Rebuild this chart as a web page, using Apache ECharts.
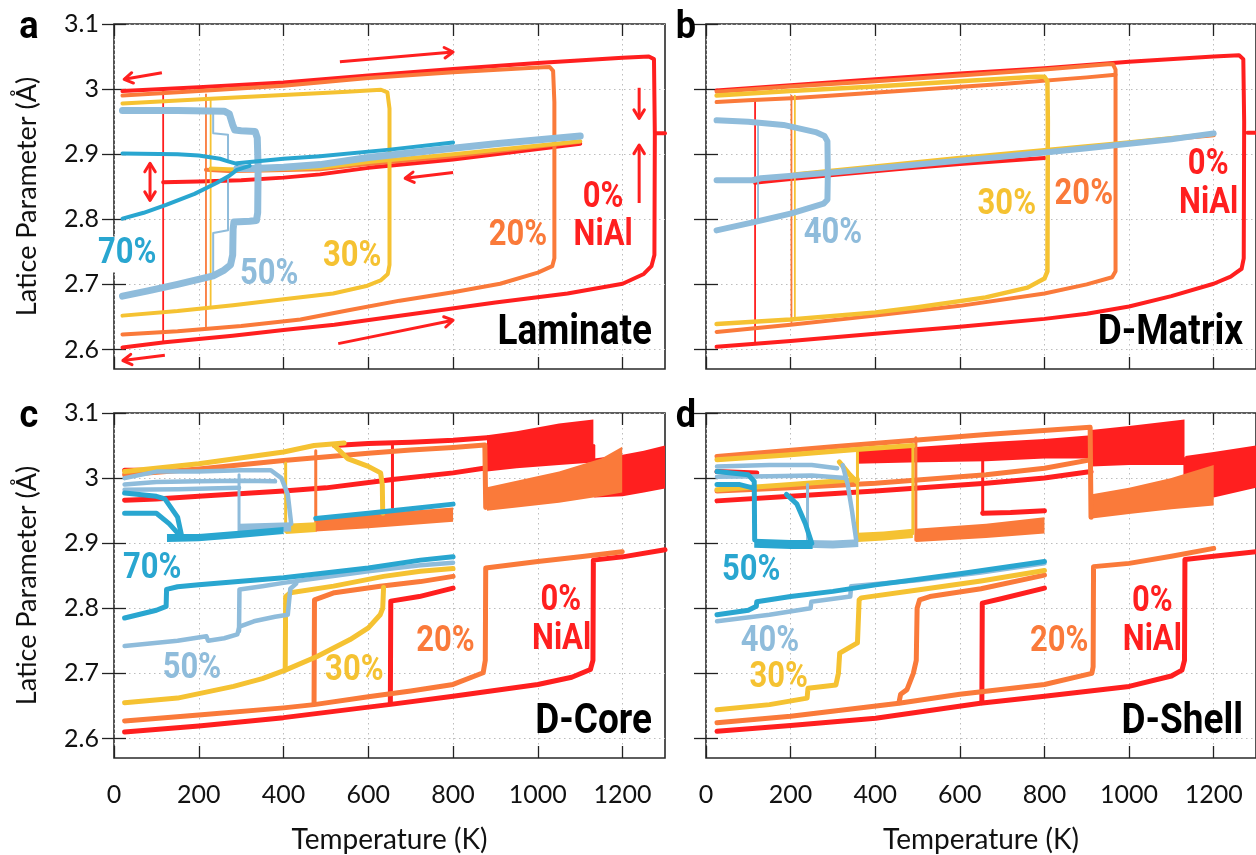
<!DOCTYPE html>
<html>
<head>
<meta charset="utf-8">
<script src="https://cdn.jsdelivr.net/npm/echarts@6.0.0/dist/echarts.min.js"></script>
<style>
  html, body { margin: 0; padding: 0; background: #fff; }
  #chart { width: 1256px; height: 855px; }
</style>
</head>
<body>
<div id="chart"></div>
<script>
// ---- axis ticks ----
const tempTicks = [0, 200, 400, 600, 800, 1000, 1200];
const latticeTicks = [2.6, 2.7, 2.8, 2.9, 3.0, 3.1];

// ---- (a) Laminate : segments of [T (K), lattice parameter (Å)] ----
const laminate0 = [
  [[20,2.997],[200,3.003],[400,3.010],[600,3.021],[800,3.031],[1000,3.040],[1200,3.048],[1262,3.050],[1274,3.046],[1276,2.930],[1275,2.745],[1268,2.728],[1250,2.716],[1200,2.701],[1070,2.686],[900,2.672],[700,2.654],[520,2.638],[400,2.630],[280,2.621],[120,2.611],[20,2.603]],
  [[1100,2.916],[800,2.892],[600,2.879],[486,2.869],[400,2.864],[300,2.860],[200,2.858],[116,2.857]],
  [[116,2.998],[116,2.611]],
  [[1280,2.932],[1300,2.932]]
];
const laminate20 = [
  [[20,2.990],[200,2.997],[400,3.005],[600,3.017],[800,3.026],[1000,3.033],[1028,3.034],[1036,3.028],[1039,2.980],[1039,2.740],[1034,2.728],[1000,2.718],[911,2.701],[800,2.688],[674,2.675],[550,2.660],[440,2.646],[300,2.636],[150,2.628],[20,2.623]],
  [[1100,2.919],[800,2.897],[600,2.885],[486,2.877],[350,2.875],[270,2.874],[217,2.876]],
  [[217,2.992],[217,2.634]]
];
const laminate30 = [
  [[20,2.978],[228,2.985],[400,2.991],[550,2.996],[630,2.999],[645,2.995],[650,2.970],[650,2.730],[646,2.716],[629,2.706],[598,2.698],[517,2.686],[400,2.677],[281,2.668],[150,2.659],[20,2.652]],
  [[1100,2.920],[800,2.900],[600,2.888],[486,2.879],[350,2.876],[270,2.877],[228,2.878]],
  [[228,2.985],[228,2.664]]
];
const laminate50 = [
  [[20,2.967],[150,2.967],[260,2.966],[272,2.962],[280,2.945],[285,2.937],[300,2.936],[333,2.935],[338,2.925],[340,2.880],[339,2.810],[336,2.798],[320,2.797],[283,2.796],[281,2.785],[280,2.745],[275,2.730],[260,2.722],[234,2.713],[150,2.700],[80,2.690],[20,2.682]],
  [[1100,2.928],[900,2.916],[800,2.909],[600,2.895],[486,2.884],[400,2.880],[330,2.878],[290,2.878]]
];
const laminate50Thin = [
  [[234,2.965],[234,2.932],[269,2.930],[269,2.891]],
  [[269,2.865],[269,2.783],[234,2.779],[234,2.711]]
];
const laminate70 = [
  [[20,2.901],[150,2.900],[200,2.898],[250,2.893],[269,2.889],[290,2.885]],
  [[20,2.801],[70,2.810],[123,2.822],[190,2.839],[243,2.856],[270,2.866],[290,2.876],[320,2.882]],
  [[290,2.886],[400,2.893],[486,2.897],[650,2.907],[800,2.918]]
];

// ---- (b) D-Matrix ----
const matrix0 = [
  [[25,2.998],[200,3.006],[400,3.015],[600,3.024],[800,3.032],[1000,3.042],[1200,3.050],[1260,3.052],[1270,3.046],[1272,2.950],[1271,2.740],[1266,2.724],[1240,2.712],[1200,2.701],[1100,2.682],[1000,2.666],[900,2.655],[800,2.647],[600,2.635],[400,2.624],[200,2.613],[25,2.604]],
  [[800,2.894],[600,2.885],[470,2.878],[300,2.868],[200,2.862],[125,2.857],[116,2.856]],
  [[116,2.985],[116,2.611]],
  [[1280,2.933],[1300,2.933]]
];
const matrix20 = [
  [[25,2.996],[200,3.004],[400,3.012],[600,3.021],[800,3.030],[950,3.038],[962,3.038],[968,3.030],[968,2.720],[960,2.711],[900,2.700],[800,2.686],[600,2.667],[400,2.652],[200,2.638],[25,2.627]],
  [[968,3.022],[900,3.018],[700,3.008],[500,2.999],[300,2.990],[202,2.986],[100,2.983],[25,2.980]],
  [[1200,2.929],[1000,2.917],[800,2.905],[600,2.892],[400,2.879],[202,2.868]],
  [[202,2.990],[202,2.642]]
];
const matrix30 = [
  [[25,2.990],[200,2.997],[400,3.004],[600,3.012],[780,3.019],[800,3.019],[807,3.012],[808,2.950],[807,2.720],[800,2.709],[760,2.695],[661,2.680],[500,2.665],[401,2.657],[200,2.646],[25,2.639]],
  [[1200,2.931],[1000,2.918],[800,2.906],[600,2.894],[400,2.881],[210,2.869]],
  [[210,2.990],[210,2.650]]
];
const matrix40 = [
  [[25,2.952],[100,2.950],[183,2.945],[259,2.934],[280,2.928],[287,2.920],[288,2.870],[287,2.830],[278,2.824],[202,2.809],[116,2.796],[25,2.783]],
  [[25,2.860],[110,2.860],[130,2.863],[300,2.872],[500,2.884],[700,2.896],[900,2.909],[1100,2.923],[1200,2.932]],
  [[123,2.948],[123,2.798]]
];

// ---- (c) D-Core ----
const core0 = [
  [[25,2.610],[200,2.619],[400,2.632],[648,2.652],[800,2.665],[1000,2.683],[1080,2.694],[1124,2.706],[1130,2.720],[1131,2.874],[1200,2.879],[1300,2.890]],
  [[652,2.655],[653,2.811],[720,2.818],[800,2.831]],
  [[25,2.966],[100,2.968],[200,2.972],[400,2.980],[500,2.985],[657,2.998],[800,3.008],[880,3.016]],
  [[520,3.050],[600,3.053],[700,3.055],[800,3.058],[880,3.062]],
  [[1132,3.050],[1132,2.975]],
  [[657,3.050],[657,2.955]],
  [[25,3.012],[100,3.012]]
];
const core0Bands = [
  [[880,3.010,3.066],[950,3.015,3.072],[1050,3.020,3.084],[1131,3.024,3.090]],
  [[1133,2.970,3.030],[1200,2.972,3.036],[1250,2.978,3.042],[1300,2.984,3.050]]
];
const core20 = [
  [[25,2.627],[200,2.636],[400,2.647],[472,2.652],[600,2.664],[700,2.673],[800,2.683],[871,2.701],[876,2.720],[877,2.862],[1000,2.872],[1100,2.879],[1199,2.887]],
  [[472,2.655],[473,2.813],[520,2.824],[628,2.834],[723,2.841],[800,2.849]],
  [[25,3.005],[200,3.014],[400,3.027],[600,3.038],[700,3.043],[800,3.047],[875,3.051],[877,2.955]],
  [[476,3.042],[476,2.920]]
];
const core20Bands = [
  [[880,2.950,2.986],[950,2.955,2.996],[1050,2.962,3.010],[1150,2.972,3.030],[1199,2.978,3.048]],
  [[476,2.918,2.936],[600,2.923,2.944],[700,2.928,2.950],[800,2.933,2.955]]
];
const core30 = [
  [[25,2.655],[150,2.662],[282,2.680],[350,2.692],[404,2.705],[479,2.726],[557,2.752],[600,2.770],[628,2.790],[634,2.800],[636,2.832]],
  [[404,2.705],[405,2.818],[416,2.824],[518,2.834],[636,2.849],[723,2.857],[800,2.861]],
  [[25,3.010],[200,3.022],[400,3.040],[472,3.050],[543,3.054]],
  [[520,3.050],[551,3.030],[600,3.018],[629,3.008],[633,2.990],[634,2.946]],
  [[405,3.023],[405,2.918]]
];
const core30Bands = [
  [[405,2.914,2.930],[476,2.917,2.932]]
];
const core50 = [
  [[25,3.000],[100,3.010],[200,3.010],[300,3.012],[370,3.012],[395,3.000],[410,2.975],[418,2.930]],
  [[25,2.990],[100,2.994],[200,2.995],[300,2.996],[380,2.995]],
  [[25,2.982],[150,2.983],[295,2.985]],
  [[295,3.005],[295,2.920]],
  [[25,2.742],[150,2.750],[218,2.757],[222,2.750],[260,2.754],[291,2.760],[296,2.772],[330,2.780],[380,2.787],[410,2.790],[416,2.830],[430,2.838]],
  [[295,2.765],[296,2.829],[350,2.834],[400,2.839],[500,2.848],[600,2.857],[723,2.866],[800,2.870]]
];
const core50Bands = [
  [[295,2.916,2.930],[418,2.918,2.932]]
];
const core70 = [
  [[25,2.977],[100,2.972],[120,2.968],[150,2.940],[160,2.910]],
  [[25,2.946],[100,2.946],[130,2.930],[155,2.912]],
  [[476,2.938],[600,2.946],[700,2.953],[800,2.960]],
  [[25,2.785],[100,2.797],[123,2.803],[124,2.829],[150,2.833],[200,2.836],[400,2.847],[600,2.862],[723,2.874],[800,2.879]]
];
const core70Bands = [
  [[125,2.902,2.914],[200,2.903,2.914],[295,2.908,2.919],[400,2.914,2.925]]
];

// ---- (d) D-Shell ----
const shell0 = [
  [[26,2.611],[200,2.620],[401,2.631],[648,2.654],[800,2.665],[1000,2.680],[1100,2.696],[1125,2.705],[1131,2.720],[1132,2.875],[1200,2.880],[1300,2.887]],
  [[652,2.655],[653,2.808],[700,2.815],[800,2.831]],
  [[26,2.965],[200,2.972],[400,2.980],[662,2.992],[800,3.000],[910,3.010]],
  [[1132,3.030],[1132,2.985]],
  [[654,3.050],[654,2.945]],
  [[654,2.946],[720,2.947],[800,2.950]],
  [[26,3.010],[120,3.008]]
];
const shell0Bands = [
  [[355,3.022,3.043],[480,3.024,3.047],[662,3.026,3.055],[800,3.030,3.060],[910,3.030,3.066]],
  [[910,3.018,3.074],[1000,3.020,3.080],[1131,3.020,3.090]],
  [[1133,2.972,3.034],[1200,2.970,3.040],[1300,2.985,3.050]]
];
const shell20 = [
  [[26,2.624],[200,2.634],[456,2.654],[600,2.668],[800,2.683],[912,2.700],[915,2.710],[916,2.864],[1000,2.869],[1100,2.880],[1200,2.892]],
  [[456,2.655],[460,2.668],[475,2.675],[490,2.700],[497,2.720],[499,2.800],[505,2.813],[529,2.818],[650,2.830],[800,2.851]],
  [[26,3.033],[300,3.048],[662,3.067],[908,3.078],[910,2.940]],
  [[26,2.980],[200,2.985],[400,2.992],[662,3.005],[800,3.015],[908,3.028]],
  [[496,3.062],[496,2.905]]
];
const shell20Bands = [
  [[912,2.938,2.975],[1000,2.945,2.985],[1100,2.952,3.000],[1200,2.958,3.020]],
  [[496,2.902,2.922],[662,2.908,2.930],[800,2.915,2.940]]
];
const shell30 = [
  [[26,2.644],[150,2.652],[239,2.662],[241,2.677],[307,2.682],[313,2.700],[316,2.731],[358,2.747],[360,2.780],[362,2.813],[367,2.816],[500,2.828],[650,2.842],[800,2.858]],
  [[26,3.028],[200,3.036],[355,3.044],[489,3.050]],
  [[26,2.982],[200,2.990],[358,2.998]],
  [[358,3.040],[358,2.907]],
  [[489,3.050],[489,2.915]],
  [[315,3.025],[340,3.005],[355,2.995]]
];
const shell30Bands = [
  [[358,2.902,2.916],[420,2.904,2.918],[489,2.908,2.922]]
];
const shell40 = [
  [[26,2.780],[150,2.790],[247,2.800],[249,2.810],[341,2.818],[343,2.834],[500,2.843],[650,2.855],[800,2.869]],
  [[26,3.018],[150,3.020],[250,3.020],[310,3.015]],
  [[26,3.002],[150,3.003],[250,3.004],[330,3.000]],
  [[323,3.020],[335,2.990],[345,2.950],[355,2.905]],
  [[240,2.990],[240,2.900]]
];
const shell40Bands = [
  [[240,2.893,2.905],[300,2.892,2.904],[360,2.894,2.906]]
];
const shell50 = [
  [[26,2.790],[100,2.797],[119,2.803],[120,2.810],[200,2.818],[300,2.826],[401,2.836],[600,2.853],[800,2.872]],
  [[26,3.010],[100,3.005],[114,2.995],[115,2.905]],
  [[26,2.990],[80,2.990],[110,2.985]],
  [[190,2.975],[215,2.960],[235,2.930],[250,2.900]]
];
const shell50Bands = [
  [[114,2.893,2.907],[200,2.891,2.905],[252,2.891,2.905]]
];

// ---- composition tags: [panel, text, T, lattice, colour key] ----
const tags = [
  [0,'70%',31,2.746,'b'],[0,'50%',366,2.714,'lb'],[0,'30%',562,2.742,'y'],[0,'20%',953,2.775,'o'],[0,'0%',1154,2.833,'r'],[0,'NiAl',1154,2.775,'r'],
  [1,'40%',300,2.778,'lb'],[1,'30%',711,2.822,'y'],[1,'20%',893,2.837,'o'],[1,'0%',1187,2.883,'r'],[1,'NiAl',1188,2.823,'r'],
  [2,'70%',90,2.861,'b'],[2,'50%',184,2.707,'lb'],[2,'30%',567,2.703,'y'],[2,'20%',782,2.748,'o'],[2,'0%',1054,2.811,'r'],[2,'NiAl',1056,2.752,'r'],
  [3,'50%',107,2.858,'b'],[3,'40%',151,2.748,'lb'],[3,'30%',172,2.693,'y'],[3,'20%',835,2.748,'o'],[3,'0%',1055,2.809,'r'],[3,'NiAl',1055,2.749,'r']
];
// heating / cooling direction arrows in (a): [T1, v1, T2, v2, double-headed]
const laminateArrows = [
  [113,3.025,24,3.015,0],[120,2.591,21,2.583,0],[533,3.042,800,3.057,0],[529,2.609,800,2.645,0],
  [800,2.872,687,2.863,0],[1239,3.002,1239,2.955,0],[1239,2.825,1239,2.914,0],[85,2.886,85,2.829,1]
];

const C = { r:'#ff1f1f', o:'#fa7a3a', y:'#f5c232', lb:'#8fbcdb', b:'#29a6d0' };
const FONT = 'Lato';

const layout = [
  { left:114, top:24,  width:551, height:345, xLabels:false, yLabels:true,  title:'Laminate', letter:'a' },
  { left:706, top:24,  width:550, height:345, xLabels:false, yLabels:false, title:'D-Matrix', letter:'b' },
  { left:114, top:413, width:551, height:345, xLabels:true,  yLabels:true,  title:'D-Core',   letter:'c' },
  { left:706, top:413, width:550, height:345, xLabels:true,  yLabels:false, title:'D-Shell',  letter:'d' }
];

// traces per panel: [segments, colour key, line width, noise bands]
const panelTraces = [
  [[laminate0,'r',4],[laminate20,'o',4],[laminate30,'y',4],[laminate50,'lb',7],[laminate50Thin,'lb',2],[laminate70,'b',4]],
  [[matrix0,'r',4],[matrix20,'o',4],[matrix30,'y',4.5],[matrix40,'lb',6]],
  [[core0,'r',5,core0Bands],[core20,'o',5,core20Bands],[core30,'y',5,core30Bands],[core50,'lb',4.5,core50Bands],[core70,'b',5,core70Bands]],
  [[shell0,'r',5,shell0Bands],[shell20,'o',5,shell20Bands],[shell30,'y',5,shell30Bands],[shell40,'lb',4.5,shell40Bands],[shell50,'b',5,shell50Bands]]
];

const tickStyle = { color:'#222', width:1.3 };
const gridLine = { show:true, lineStyle:{ type:[1.5,3.5], color:'#bdbdbd', width:1 } };
const grids = [], xAxes = [], yAxes = [], series = [];

layout.forEach((L, g) => {
  grids.push({ left:L.left, top:L.top, width:L.width, height:L.height, show:true,
    borderColor:'#2a2a2a', borderWidth:1.6, backgroundColor:'transparent',
    containLabel:false, outerBoundsMode:'none' });
  xAxes.push({ type:'value', gridIndex:g, min:0, max:1300, interval:200, position:'bottom',
    axisLine:{show:false},
    axisTick:{show:true, inside:true, length:12, customValues:tempTicks, lineStyle:tickStyle},
    axisLabel:{show:L.xLabels, customValues:tempTicks, margin:24, fontSize:25, fontFamily:FONT, color:'#111',
      formatter:(v) => String(v)},
    splitLine:gridLine,
    name:L.xLabels ? 'Temperature (K)' : '', nameLocation:'middle', nameGap:68,
    nameTextStyle:{fontSize:28, fontFamily:FONT, color:'#111'} });
  xAxes.push({ type:'value', gridIndex:g, min:0, max:1300, interval:200, position:'top',
    axisLine:{show:false},
    axisTick:{show:true, inside:true, length:12, customValues:tempTicks, lineStyle:tickStyle},
    axisLabel:{show:false}, splitLine:{show:false} });
  yAxes.push({ type:'value', gridIndex:g, min:2.57, max:3.1, position:'left',
    axisLine:{show:false},
    axisTick:{show:true, inside:true, length:12, customValues:latticeTicks, lineStyle:tickStyle},
    axisLabel:{show:L.yLabels, customValues:latticeTicks, margin:15, fontSize:25, fontFamily:FONT, color:'#111',
      formatter:(v) => Math.abs(v - 3) < 1e-9 ? '3' : v.toFixed(1)},
    splitLine:gridLine,
    name:L.yLabels ? 'Latice Parameter (Å)' : '', nameLocation:'middle', nameGap:73,
    nameTextStyle:{fontSize:27, fontFamily:FONT, color:'#111'} });
  yAxes.push({ type:'value', gridIndex:g, min:2.57, max:3.1, position:'right',
    axisLine:{show:false},
    axisTick:{show:true, inside:true, length:12, customValues:latticeTicks, lineStyle:tickStyle},
    axisLabel:{show:false}, splitLine:{show:false} });

  const stepWidth = g < 2 ? 1.8 : 3;
  panelTraces[g].forEach(([segs, key, width, bands], k) => {
    const color = C[key];
    const z = 3 + k;
    (bands || []).forEach((band) => {
      series.push({ type:'custom', xAxisIndex:2*g, yAxisIndex:2*g, silent:true, animation:false, z, clip:true,
        data:[[band[0][0], band[0][1]]],
        renderItem:(params, api) => {
          const upper = band.map((p) => api.coord([p[0], p[2]]));
          const lower = band.slice().reverse().map((p) => api.coord([p[0], p[1]]));
          return { type:'polygon', shape:{ points: upper.concat(lower) }, style:{ fill: color } };
        } });
    });
    segs.forEach((seg) => {
      const isStep = seg.length === 2 && seg[0][0] === seg[1][0];
      series.push({ type:'line', xAxisIndex:2*g, yAxisIndex:2*g, data:seg, symbol:'none', showSymbol:false,
        silent:true, animation:false, z, clip:true,
        lineStyle:{ color, width: isStep ? stepWidth : width, cap:'round', join:'round' } });
    });
  });
});

const chart = echarts.init(document.getElementById('chart'), null, { renderer:'canvas' });
chart.setOption({ animation:false, backgroundColor:'#fff', grid:grids, xAxis:xAxes, yAxis:yAxes, series });

// ---- text and arrows placed through the axes' own scales ----
const toPx = (g, T, v) => chart.convertToPixel({ xAxisIndex:2*g, yAxisIndex:2*g }, [T, v]);
const gfx = [];
const textEl = (x, y, text, font, fill, align, sx, bg) => ({
  type:'text', x, y, scaleX:sx, z:100,
  style:{ text, font, fill, align, textAlign:align, verticalAlign:'middle', textVerticalAlign:'middle',
    backgroundColor: bg || 'transparent', padding: bg ? [0, 2] : 0 }
});
tags.forEach(([g, text, T, v, key]) => {
  const [x, y] = toPx(g, T, v);
  gfx.push(textEl(x, y, text, 'bold 36px Roboto', C[key], 'center', 0.86, g === 0 && text === '70%' ? '#fff' : null));
});
layout.forEach((L) => {
  gfx.push(textEl(L.left + L.width - 13, L.top + L.height - 36, L.title, 'bold 42px Roboto', '#000', 'right', 0.88));
  gfx.push(textEl(L.left - (L.left > 300 ? 20 : 85), L.top + 4, L.letter, 'bold 38px Roboto', '#000', 'center', 0.95));
});
laminateArrows.forEach(([T1, v1, T2, v2, both]) => {
  const a = toPx(0, T1, v1), b = toPx(0, T2, v2);
  const head = (tip, from) => {
    const dx = tip[0] - from[0], dy = tip[1] - from[1], len = Math.hypot(dx, dy);
    const ux = dx / len, uy = dy / len, s = 10, ang = 0.55;
    const p1 = [tip[0] - s * (ux * Math.cos(ang) - uy * Math.sin(ang)), tip[1] - s * (uy * Math.cos(ang) + ux * Math.sin(ang))];
    const p2 = [tip[0] - s * (ux * Math.cos(ang) + uy * Math.sin(ang)), tip[1] - s * (uy * Math.cos(ang) - ux * Math.sin(ang))];
    return { type:'polyline', z:100, shape:{ points:[p1, tip, p2] }, style:{ stroke:C.r, lineWidth:3, fill:null, lineCap:'round', lineJoin:'round' } };
  };
  gfx.push({ type:'polyline', z:100, shape:{ points:[a, b] }, style:{ stroke:C.r, lineWidth:3, fill:null } });
  gfx.push(head(b, a));
  if (both) gfx.push(head(a, b));
});
chart.setOption({ graphic: gfx });
</script>
</body>
</html>
